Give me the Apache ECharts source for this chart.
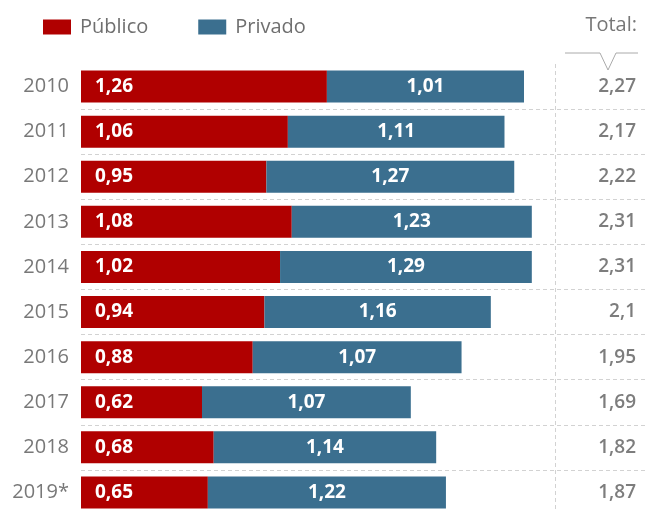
<!DOCTYPE html>
<html>
<head>
<meta charset="utf-8">
<script src="https://cdn.jsdelivr.net/npm/echarts@6/dist/echarts.min.js"></script>
<style>
  html, body { margin: 0; padding: 0; background: #fff; }
  #chart { width: 648px; height: 509px; }
</style>
</head>
<body>
<div id="chart"></div>
<script>
// datos
const years = ["2010", "2011", "2012", "2013", "2014", "2015", "2016", "2017", "2018", "2019*"];
const publico = [1.26, 1.06, 0.95, 1.08, 1.02, 0.94, 0.88, 0.62, 0.68, 0.65];
const privado = [1.01, 1.11, 1.27, 1.23, 1.29, 1.16, 1.07, 1.07, 1.14, 1.22];
const totals = [2.27, 2.17, 2.22, 2.31, 2.31, 2.1, 1.95, 1.69, 1.82, 1.87];

const fmt = (v) => String(v).replace(".", ",");
const FONT = "Open Sans";

const chart = echarts.init(document.getElementById("chart"));

const option = {
  animation: false,
  textStyle: { fontFamily: FONT },
  grid: { left: 81, right: 3, top: 64, height: 451, outerBoundsMode: "none" },
  legend: {
    left: 43,
    top: 17,
    padding: 0,
    icon: "rect",
    itemWidth: 28,
    itemHeight: 15,
    itemGap: 50,
    textStyle: { color: "#6f6f6f", fontSize: 20, fontFamily: FONT, padding: [0, 0, 0, 4] },
    data: ["Público", "Privado"],
  },
  xAxis: { type: "value", min: 0, max: 2.89, show: false },
  yAxis: [
    {
      type: "category",
      inverse: true,
      data: years,
      axisLine: { show: false },
      axisTick: { show: false },
      axisLabel: { color: "#787878", fontSize: 20, margin: 12, fontFamily: FONT },
      splitLine: {
        show: true,
        interval: (index) => index > 0,
        lineStyle: { color: "#d2d2d2", type: [4, 3], width: 1 },
      },
    },
    {
      type: "category",
      inverse: true,
      position: "right",
      data: totals.map(fmt),
      axisLine: { show: false },
      axisTick: { show: false },
      splitLine: { show: false },
      axisLabel: { inside: true, margin: 9, color: "#7d7d7d", fontSize: 19, fontWeight: 600, fontFamily: FONT },
    },
  ],
  series: [
    {
      name: "Público",
      type: "bar",
      stack: "total",
      barWidth: 32,
      data: publico,
      itemStyle: { color: "#b00000" },
      label: {
        show: true,
        position: "insideLeft",
        distance: 14,
        color: "#fff",
        fontSize: 19,
        fontWeight: "bold",
        fontFamily: FONT,
        formatter: (p) => fmt(p.value),
      },
    },
    {
      name: "Privado",
      type: "bar",
      stack: "total",
      barWidth: 32,
      data: privado,
      itemStyle: { color: "#3b6f8f" },
      label: {
        show: true,
        position: "inside",
        color: "#fff",
        fontSize: 19,
        fontWeight: "bold",
        fontFamily: FONT,
        formatter: (p) => fmt(p.value),
      },
    },
  ],
  graphic: [
    {
      type: "text",
      right: 11,
      top: 15,
      style: { text: "Total:", fill: "#777", fontSize: 20, fontFamily: FONT },
    },
    {
      type: "polyline",
      shape: { points: [[565, 53], [600, 53], [608, 70], [616, 53], [638, 53]] },
      style: { stroke: "#aaa", lineWidth: 1, fill: null },
    },
    {
      type: "line",
      shape: { x1: 555.5, y1: 64, x2: 555.5, y2: 509 },
      style: { stroke: "#d2d2d2", lineWidth: 1, lineDash: [4, 3] },
    },
  ],
};

chart.setOption(option);
window.onresize = () => {
  chart.resize();
};
</script>
</body>
</html>
